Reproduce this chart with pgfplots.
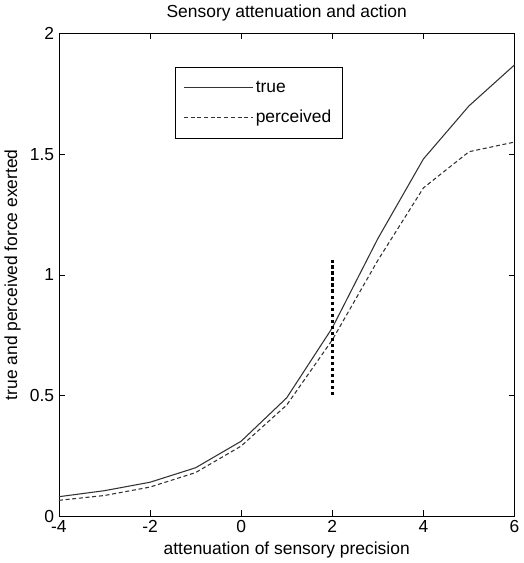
\documentclass[border=0pt]{standalone}
\usepackage{pgfplots}
\pgfplotsset{compat=1.18}
\usepackage{fontspec}
\setmainfont{Liberation Sans}
\begin{document}
\begin{tikzpicture}
\begin{axis}[scale only axis, width=340pt, height=360pt,
  xmin=-4, xmax=6, ymin=0, ymax=2,
  xtick={-4,-2,...,6}, ytick={0,0.5,1,1.5,2},
  yticklabels={0,0.5,1,1.5,2},
  tick align=inside, tick style={black},
  /pgf/number format/assume math mode=true,
  tick label style={font=\fontsize{13}{15}\selectfont},
  label style={font=\fontsize{13}{15}\selectfont},
  title style={font=\fontsize{13}{15}\selectfont},
  title={Sensory attenuation and action},
  xlabel={attenuation  of sensory precision},
  ylabel={true and perceived force exerted},
  legend style={at={(axis cs:-1.45,1.86)}, anchor=north west, font=\fontsize{13}{15}\selectfont, draw=black, inner xsep=6pt, inner ysep=8pt, row sep=8pt},
  legend cell align=left,
  legend image post style={xscale=3},
]
\addplot[black!80, thick] coordinates {(-4,0.08)(-3,0.105)(-2,0.14)(-1,0.2)(0,0.31)(1,0.49)(2,0.78)(3,1.15)(4,1.48)(5,1.70)(6,1.87)};
\addlegendentry{true}
\addplot[black!80, thick, densely dashed] coordinates {(-4,0.065)(-3,0.085)(-2,0.12)(-1,0.18)(0,0.29)(1,0.46)(2,0.73)(3,1.06)(4,1.36)(5,1.51)(6,1.55)};
\addlegendentry{perceived}
\addplot[black, line width=2.5pt, dotted, forget plot] coordinates {(2,0.5)(2,1.06)};
\end{axis}
\end{tikzpicture}
\end{document}
